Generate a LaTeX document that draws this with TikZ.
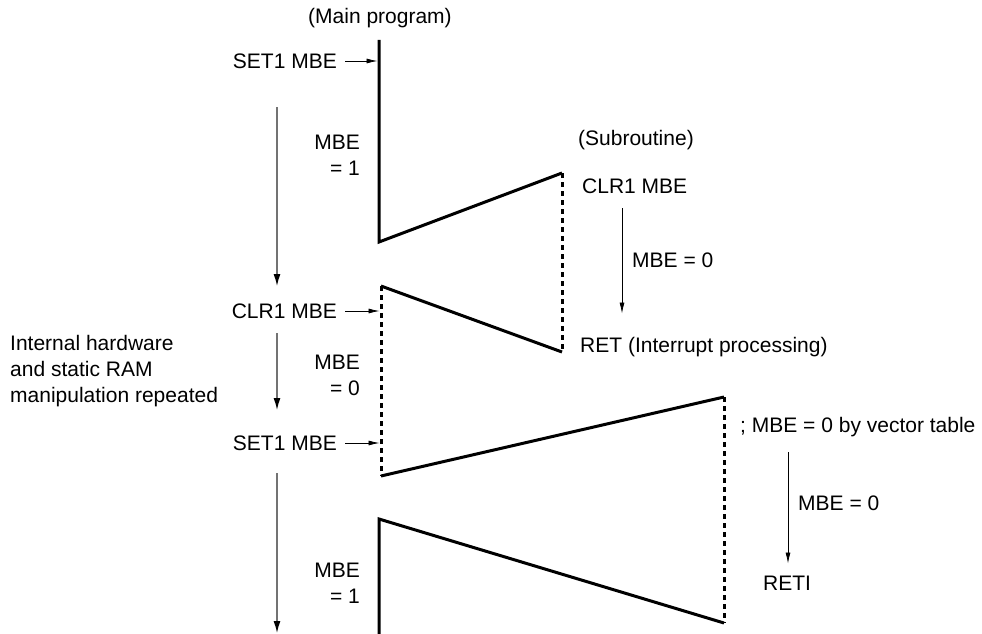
\documentclass[tikz,border=0pt]{standalone}
\usepackage{fontspec}
\setmainfont{Liberation Sans}
\usetikzlibrary{arrows.meta}

\tikzset{
  wave/.style={line width=3pt, line join=miter},
  idle/.style={line width=3pt, dash pattern=on 5pt off 4pt},
  tick/.style={line width=0.8pt, shorten >=1.5pt, -{Latex[length=11pt,width=5pt]}},
  flow/.style={draw=black!55, line width=1.3pt, -{Latex[length=12pt,width=7pt,color=black]}},
  lbl/.style={inner sep=0pt, font=\fontsize{21}{26}\selectfont},
}

\begin{document}
\begin{tikzpicture}[x=1pt,y=-1pt]
  \useasboundingbox (0,0) rectangle (982,634);

  %% level of MBE
  % corners
  \coordinate (m0) at (379,40);
  \coordinate (m1) at (379,242);
  \coordinate (s0) at (562,173);
  \coordinate (s1) at (562,352);
  \coordinate (c0) at (381,286);
  \coordinate (c1) at (381,476);
  \coordinate (i0) at (724,397);
  \coordinate (i1) at (724,623);
  \coordinate (r0) at (379,519);
  \coordinate (r1) at (379,634);

  \draw[wave] (m0) -- (m1) -- (s0);
  \draw[idle] (s0) -- (s1);
  \draw[wave] (s1) -- (c0);
  \draw[idle] (c0) -- (c1);
  \draw[wave] (c1) -- (i0);
  \draw[idle] (i0) -- (i1);
  \draw[wave] (i1) -- (r0) -- (r1);

  %% main program
  \node[lbl] (main) at (380,18) {(Main program)};
  \node[lbl, anchor=east] (set1a) at (337,61) {SET1 MBE};
  \node[lbl, anchor=east, align=right] (mbea) at (360,155) {MBE\\= 1};
  \node[lbl, anchor=east] (clr1a) at (337,311) {CLR1 MBE};
  \node[lbl, anchor=east, align=right] (mbeb) at (360,375) {MBE\\= 0};
  \node[lbl, anchor=east] (set1b) at (337,443) {SET1 MBE};
  \node[lbl, anchor=east, align=right] (mbec) at (360,583) {MBE\\= 1};
  \node[lbl, anchor=west, align=left] (note) at (10,371)
    {Internal hardware\\and static RAM\\manipulation repeated};

  \draw[tick] ([xshift=8pt]set1a.east) -- (set1a.east -| m0);
  \draw[tick] ([xshift=8pt]clr1a.east) -- (clr1a.east -| c0);
  \draw[tick] ([xshift=8pt]set1b.east) -- (set1b.east -| c0);

  % program flow
  \coordinate (fa0) at (277,107);
  \coordinate (fa1) at (277,286);
  \coordinate (fb0) at (277,333);
  \coordinate (fb1) at (277,410);
  \coordinate (fc0) at (277,473);
  \coordinate (fc1) at (277,633);
  \draw[flow] (fa0) -- (fa1);
  \draw[flow] (fb0) -- (fb1);
  \draw[flow] (fc0) -- (fc1);

  %% subroutine
  \node[lbl, anchor=west] (sub) at (578,140) {(Subroutine)};
  \node[lbl, anchor=west] (clr1s) at (582,186) {CLR1 MBE};
  \node[lbl, anchor=west] (mbes) at (632,260) {MBE = 0};
  \node[lbl, anchor=west] (ret) at (580,347) {RET (Interrupt processing)};
  \coordinate (sa0) at (622,208);
  \coordinate (sa1) at (622,315);
  \draw[tick] (sa0) -- (sa1);

  %% interrupt
  \node[lbl, anchor=west] (vect) at (740,427) {; MBE = 0 by vector table};
  \node[lbl, anchor=west] (mbei) at (798,503) {MBE = 0};
  \node[lbl, anchor=west] (reti) at (763,583) {RETI};
  \coordinate (ia0) at (788,452);
  \coordinate (ia1) at (788,565);
  \draw[tick] (ia0) -- (ia1);
\end{tikzpicture}
\end{document}
